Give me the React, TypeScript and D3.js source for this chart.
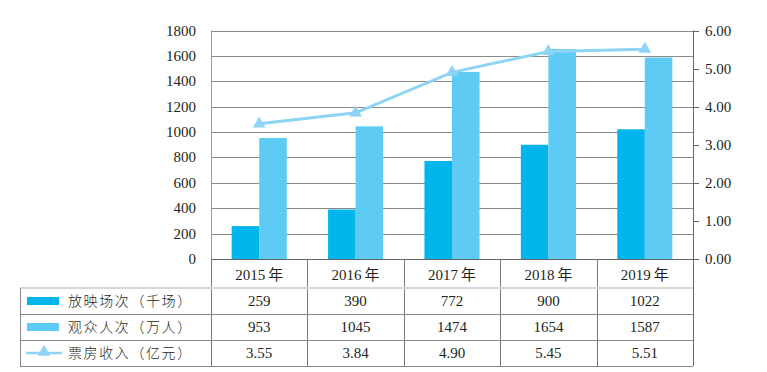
import React, { useRef, useEffect } from 'react';
import * as d3 from 'd3';

// chart data
const years = ['2015年', '2016年', '2017年', '2018年', '2019年'];
const screenings = [259, 390, 772, 900, 1022]; // 放映场次（千场）
const audience = [953, 1045, 1474, 1654, 1587]; // 观众人次（万人）
const boxOffice = [3.55, 3.84, 4.9, 5.45, 5.51]; // 票房收入（亿元）
const leftTicks = [0, 200, 400, 600, 800, 1000, 1200, 1400, 1600, 1800];
const rightTicks = [0, 1, 2, 3, 4, 5, 6];
const seriesNames = ['放映场次（千场）', '观众人次（万人）', '票房收入（亿元）'];

const WIDTH = 767;
const HEIGHT = 372;
const DARK = '#00b4ec';
const LIGHT = '#5ecbf4';
const LINE = '#8ed4f4';
const TEXT = '#231f20';
const FONT = '"Liberation Serif", "Times New Roman", "Noto Sans CJK SC", serif';

const App: React.FC = () => {
    const svgRef = useRef<SVGSVGElement | null>(null);

    useEffect(() => {
        const svg = d3.select(svgRef.current);
        svg.selectAll('*').remove();

        const margin = { top: 30.5, right: 74, bottom: 113, left: 211 };
        const plotRight = WIDTH - margin.right;
        const plotBottom = HEIGHT - margin.bottom;
        const tableLeft = 20;
        const rowH = 26;
        const headerBottom = plotBottom + 29;

        const x = d3.scaleBand<string>().domain(years).range([margin.left, plotRight]);
        const sub = d3.scaleBand<string>()
            .domain(['s', 'a'])
            .range([0, x.bandwidth()])
            .paddingOuter(0.75);
        const yL = d3.scaleLinear().domain([0, 1800]).range([plotBottom, margin.top]);
        const yR = d3.scaleLinear().domain([0, 6]).range([plotBottom, margin.top]);

        const g = svg.append('g').attr('font-family', FONT).attr('fill', TEXT);

        // gridlines
        g.selectAll('.grid')
            .data(leftTicks)
            .enter()
            .append('line')
            .attr('x1', margin.left)
            .attr('x2', plotRight)
            .attr('y1', d => Math.round(yL(d)) + 0.5)
            .attr('y2', d => Math.round(yL(d)) + 0.5)
            .attr('stroke', d => (d === 0 ? '#666' : '#8a8a8a'))
            .attr('stroke-width', 1);

        // left axis line
        g.append('line')
            .attr('x1', margin.left + 0.5).attr('x2', margin.left + 0.5)
            .attr('y1', yL(1800)).attr('y2', headerBottom)
            .attr('stroke', '#999');

        // left tick labels
        g.selectAll('.ltick')
            .data(leftTicks)
            .enter()
            .append('text')
            .attr('x', 196)
            .attr('y', d => yL(d) + 5)
            .attr('text-anchor', 'end')
            .attr('font-size', 15)
            .text(d => d);

        // right axis
        g.append('line')
            .attr('x1', plotRight + 0.5).attr('x2', plotRight + 0.5)
            .attr('y1', yR(6)).attr('y2', plotBottom + 29 + rowH * 3)
            .attr('stroke', '#666');
        g.selectAll('.rtickmark')
            .data(rightTicks)
            .enter()
            .append('line')
            .attr('x1', plotRight).attr('x2', plotRight + 6)
            .attr('y1', d => Math.round(yR(d)) + 0.5)
            .attr('y2', d => Math.round(yR(d)) + 0.5)
            .attr('stroke', '#666');
        g.selectAll('.rtick')
            .data(rightTicks)
            .enter()
            .append('text')
            .attr('x', plotRight + 12)
            .attr('y', d => yR(d) + 5)
            .attr('font-size', 15)
            .text(d => d.toFixed(2));

        // bars
        years.forEach((yr, i) => {
            const x0 = x(yr) as number;
            g.append('rect')
                .attr('x', x0 + (sub('s') as number))
                .attr('y', yL(screenings[i]))
                .attr('width', sub.bandwidth())
                .attr('height', plotBottom - yL(screenings[i]))
                .attr('fill', DARK);
            g.append('rect')
                .attr('x', x0 + (sub('a') as number))
                .attr('y', yL(audience[i]))
                .attr('width', sub.bandwidth())
                .attr('height', plotBottom - yL(audience[i]))
                .attr('fill', LIGHT);
        });

        // line + triangles
        const cx = (yr: string) => (x(yr) as number) + x.bandwidth() / 2;
        const line = d3.line<number>()
            .x((_, i) => cx(years[i]))
            .y(d => yR(d));
        g.append('path')
            .datum(boxOffice)
            .attr('d', line)
            .attr('fill', 'none')
            .attr('stroke', LINE)
            .attr('stroke-width', 3);
        const tri = d3.symbol().type(d3.symbolTriangle).size(70);
        g.selectAll('.marker')
            .data(boxOffice)
            .enter()
            .append('path')
            .attr('d', tri)
            .attr('transform', (d, i) => `translate(${cx(years[i])},${yR(d)})`)
            .attr('fill', LINE);

        // table: header row (years)
        x.domain().forEach(yr => {
            g.append('text')
                .attr('x', cx(yr))
                .attr('y', plotBottom + 21)
                .attr('text-anchor', 'middle')
                .attr('font-size', 15)
                .text(yr.replace('年', '\u2009年'));
        });
        // vertical separators
        years.forEach(yr => {
            const xv = Math.round(x(yr) as number) + 0.5;
            g.append('line')
                .attr('x1', xv).attr('x2', xv)
                .attr('y1', plotBottom).attr('y2', headerBottom + rowH * 3)
                .attr('stroke', '#777');
        });
        // header bottom line
        g.append('line')
            .attr('x1', tableLeft).attr('x2', plotRight)
            .attr('y1', headerBottom).attr('y2', headerBottom)
            .attr('stroke', '#d8d8d8').attr('stroke-width', 2);
        // row lines and left border
        [1, 2, 3].forEach(r => {
            const yy = headerBottom + rowH * r + 0.5;
            g.append('line')
                .attr('x1', tableLeft).attr('x2', plotRight)
                .attr('y1', yy).attr('y2', yy)
                .attr('stroke', '#888');
        });
        g.append('line')
            .attr('x1', tableLeft + 0.5).attr('x2', tableLeft + 0.5)
            .attr('y1', headerBottom).attr('y2', headerBottom + rowH * 3)
            .attr('stroke', '#888');

        // table values
        const rows = [
            screenings.map(String),
            audience.map(String),
            boxOffice.map(v => v.toFixed(2)),
        ];
        rows.forEach((vals, r) => {
            const yText = headerBottom + rowH * r + 18;
            vals.forEach((v, i) => {
                g.append('text')
                    .attr('x', cx(years[i]))
                    .attr('y', yText)
                    .attr('text-anchor', 'middle')
                    .attr('font-size', 15)
                    .text(v);
            });
            // legend
            const yMid = headerBottom + rowH * r + 13;
            if (r < 2) {
                g.append('rect')
                    .attr('x', 27).attr('y', yMid - 4)
                    .attr('width', 32).attr('height', 8)
                    .attr('fill', r === 0 ? DARK : LIGHT);
            } else {
                g.append('line')
                    .attr('x1', 26).attr('x2', 62)
                    .attr('y1', yMid).attr('y2', yMid)
                    .attr('stroke', LINE).attr('stroke-width', 2.5);
                g.append('path')
                    .attr('d', tri)
                    .attr('transform', `translate(44,${yMid - 1})`)
                    .attr('fill', LINE);
            }
            g.append('text')
                .attr('x', 68)
                .attr('y', yText)
                .attr('font-size', 14)
                .attr('letter-spacing', 1.6)
                .attr('font-family', '"Noto Sans CJK SC", sans-serif')
                .attr('font-weight', 300)
                .text(seriesNames[r]);
        });
    }, []);

    return (
        <div style={{ position: 'fixed', left: 0, top: 0, background: '#fff' }}>
            <svg ref={svgRef} width={WIDTH} height={HEIGHT}></svg>
        </div>
    );
};

export default App;
